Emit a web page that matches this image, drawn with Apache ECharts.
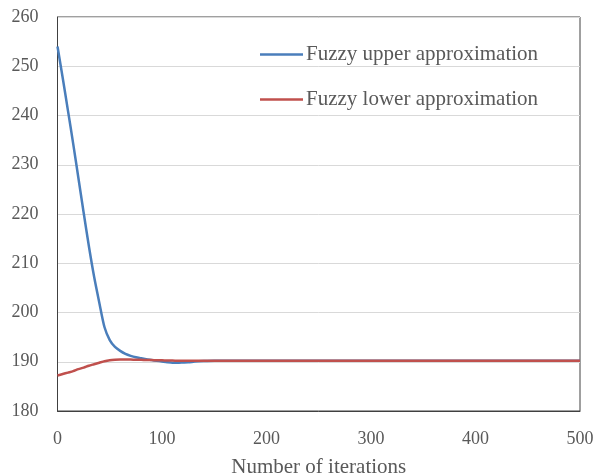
<!DOCTYPE html>
<html>
<head>
<meta charset="utf-8">
<script src="https://cdn.jsdelivr.net/npm/echarts@6/dist/echarts.min.js"></script>
<style>
  html, body { margin: 0; padding: 0; background: #fff; }
  #chart { width: 597px; height: 476px; }
</style>
</head>
<body>
<div id="chart"></div>
<script>
// Iteration counts at which both approximations are sampled
var iterations = [0, 5, 10, 15, 20, 25, 30, 35, 40, 45, 50, 55, 60, 65, 70, 75, 80, 85, 90, 95,
  100, 105, 110, 115, 120, 125, 130, 135, 140, 150, 200, 250, 300, 350, 400, 450, 500];

// Fuzzy upper approximation
var upperValues = [254.0, 247.6, 241.0, 234.3, 227.3, 220.3, 213.5, 207.3, 202.0, 197.0, 194.4, 193.0, 192.2, 191.6, 191.2, 190.9, 190.7, 190.5, 190.35, 190.2,
  190.05, 189.9, 189.8, 189.8, 189.85, 189.9, 190.0, 190.1, 190.15, 190.2, 190.2, 190.2, 190.2, 190.2, 190.2, 190.2, 190.2];

// Fuzzy lower approximation
var lowerValues = [187.2, 187.5, 187.8, 188.1, 188.5, 188.8, 189.2, 189.5, 189.8, 190.1, 190.3, 190.4, 190.45, 190.45, 190.45, 190.4, 190.4, 190.35, 190.35, 190.3,
  190.3, 190.25, 190.25, 190.2, 190.2, 190.2, 190.2, 190.2, 190.2, 190.2, 190.2, 190.2, 190.2, 190.2, 190.2, 190.2, 190.2];

var seriesNames = ['Fuzzy upper approximation', 'Fuzzy lower approximation'];
var xTitle = 'Number of iterations';

function pairs(values) {
  return iterations.map(function (it, i) { return [it, values[i]]; });
}

var font = '"Liberation Serif", "Times New Roman", serif';
var textColor = '#595959';

var chart = echarts.init(document.getElementById('chart'), null, { renderer: 'canvas' });
chart.setOption({
  animation: false,
  backgroundColor: '#ffffff',
  grid: {
    left: 57.5, right: 17, top: 17, bottom: 65,
    containLabel: false, outerBoundsMode: 'none',
    show: true, borderColor: '#404040', borderWidth: 1
  },
  legend: {
    orient: 'vertical',
    left: 260, top: 44, padding: 0,
    itemWidth: 43, itemHeight: 2.5, itemGap: 24,
    icon: 'rect',
    textStyle: { fontFamily: font, fontSize: 21, color: textColor, padding: [0, 0, 0, -2] },
    data: seriesNames
  },
  xAxis: {
    type: 'value', min: 0, max: 500, interval: 100,
    name: xTitle, nameLocation: 'middle', nameGap: 46,
    nameTextStyle: { fontFamily: font, fontSize: 21, color: textColor },
    axisLine: { show: true, lineStyle: { color: '#404040', width: 1 } },
    axisTick: { show: false },
    axisLabel: { fontFamily: font, fontSize: 18, color: textColor, margin: 19 },
    splitLine: { show: false }
  },
  yAxis: {
    type: 'value', min: 180, max: 260, interval: 10,
    axisLine: { show: true, lineStyle: { color: '#404040', width: 1 } },
    axisTick: { show: false },
    axisLabel: { fontFamily: font, fontSize: 18, color: textColor, margin: 19 },
    splitLine: { show: true, lineStyle: { color: '#d9d9d9', width: 1 } }
  },
  series: [
    {
      name: seriesNames[0], type: 'line', data: pairs(upperValues),
      smooth: 0.25, showSymbol: false, symbol: 'none',
      lineStyle: { color: '#4a7ebb', width: 2.5 }, itemStyle: { color: '#4a7ebb' }
    },
    {
      name: seriesNames[1], type: 'line', data: pairs(lowerValues),
      smooth: 0.25, showSymbol: false, symbol: 'none',
      lineStyle: { color: '#c0504d', width: 2.5 }, itemStyle: { color: '#c0504d' }
    }
  ]
});
</script>
</body>
</html>
